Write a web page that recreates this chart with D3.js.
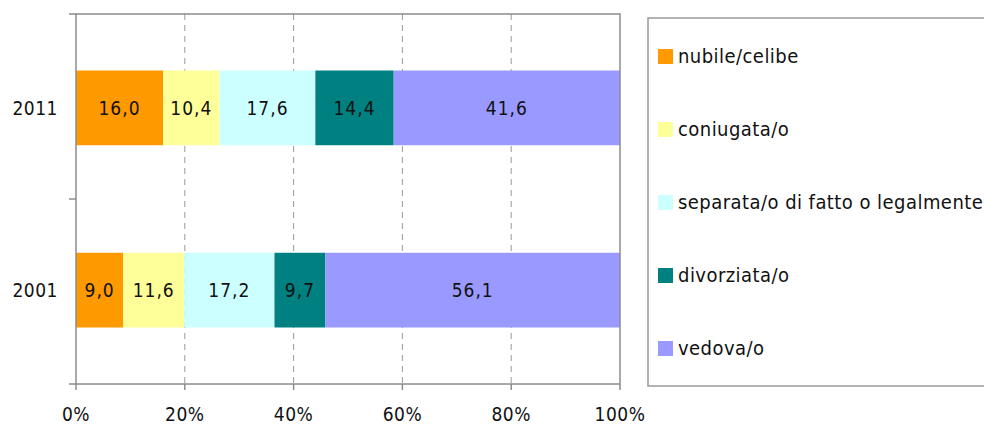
<!DOCTYPE html>
<html><head><meta charset="utf-8">
<script src="https://cdn.jsdelivr.net/npm/d3@7"></script>
<style>body{margin:0;background:#fff;}svg{display:block;}text{font-family:"DejaVu Sans Condensed","DejaVu Sans",sans-serif;font-stretch:condensed;fill:#111;}</style>
</head><body><svg id="c" width="984" height="427"></svg>
<script>
const categories = ["2011", "2001"];
const series = ["nubile/celibe", "coniugata/o", "separata/o di fatto o legalmente", "divorziata/o", "vedova/o"];
const colors = ["#FF9900", "#FFFF99", "#CCFFFF", "#008080", "#9999FF"];
const values2011 = [16.0, 10.4, 17.6, 14.4, 41.6];
const values2001 = [9.0, 11.6, 17.2, 9.7, 56.1];
const xTicks = [0, 20, 40, 60, 80, 100];

const valuesByCat = {"2011": values2011, "2001": values2001};
const svg = d3.select("#c");
const m = {l: 76, r: 620, t: 14, b: 384};
const x = d3.scaleLinear().domain([0, 100]).range([m.l, m.r]);
const y = d3.scaleBand().domain(categories).range([m.t, m.b]).paddingInner(0.59).paddingOuter(0.31);
const fmt = v => v.toFixed(1).replace(".", ",");
const fs = 19;

// grid
svg.append("g").selectAll("line").data(xTicks.filter(d => d > 0 && d < 100)).join("line")
  .attr("x1", d => x(d)).attr("x2", d => x(d)).attr("y1", m.t).attr("y2", m.b)
  .attr("stroke", "#999").attr("stroke-width", 1).attr("stroke-dasharray", "6,5");

// bars
categories.forEach(cat => {
  const vals = valuesByCat[cat];
  let acc = 0;
  const segs = vals.map((v, i) => { const s = {v, i, x0: acc, x1: acc + v}; acc += v; return s; });
  const tot = acc;
  const xs = d3.scaleLinear().domain([0, tot]).range([x(0), x(100)]);
  const g = svg.append("g");
  g.selectAll("rect").data(segs).join("rect")
    .attr("x", d => xs(d.x0)).attr("width", d => xs(d.x1) - xs(d.x0))
    .attr("y", y(cat)).attr("height", y.bandwidth()).attr("fill", d => colors[d.i]);
  g.selectAll("text").data(segs).join("text")
    .attr("x", d => (xs(d.x0) + xs(d.x1)) / 2).attr("y", y(cat) + y.bandwidth() / 2)
    .attr("text-anchor", "middle").attr("dominant-baseline", "central")
    .style("font-size", fs + "px").style("letter-spacing", "1px").text(d => fmt(d.v));
});

// plot border
svg.append("rect").attr("x", m.l).attr("y", m.t).attr("width", m.r - m.l).attr("height", m.b - m.t)
  .attr("fill", "none").attr("stroke", "#8c8c8c").attr("stroke-width", 1.5);

// y axis ticks and labels
const yTickPos = [m.t, (m.t + m.b) / 2, m.b];
svg.append("g").selectAll("line").data(yTickPos).join("line")
  .attr("x1", m.l - 7).attr("x2", m.l).attr("y1", d => d).attr("y2", d => d)
  .attr("stroke", "#8c8c8c").attr("stroke-width", 1.5);
svg.append("g").selectAll("text").data(categories).join("text")
  .attr("x", 58).attr("y", d => y(d) + y.bandwidth() / 2).attr("text-anchor", "end")
  .attr("dominant-baseline", "central").style("font-size", fs + "px").style("letter-spacing", "0.5px").text(d => d);

// x axis ticks and labels
svg.append("g").selectAll("line").data(xTicks).join("line")
  .attr("x1", d => x(d)).attr("x2", d => x(d)).attr("y1", m.b).attr("y2", m.b + 6)
  .attr("stroke", "#8c8c8c").attr("stroke-width", 1.5);
svg.append("g").selectAll("text").data(xTicks).join("text")
  .attr("x", d => x(d)).attr("y", 414).attr("text-anchor", "middle")
  .attr("dominant-baseline", "central").style("font-size", fs + "px").style("letter-spacing", "0.5px").text(d => d + "%");

// legend
svg.append("rect").attr("x", 648).attr("y", 18).attr("width", 345).attr("height", 368)
  .attr("fill", "#fff").attr("stroke", "#999").attr("stroke-width", 1.5);
const ly = d3.scalePoint().domain(series).range([56, 348]);
const lg = svg.append("g").selectAll("g").data(series).join("g");
lg.append("rect").attr("x", 658).attr("y", d => ly(d) - 7).attr("width", 15).attr("height", 15)
  .attr("fill", (d, i) => colors[i]);
lg.append("text").attr("x", 678).attr("y", d => ly(d)).attr("dominant-baseline", "central")
  .style("font-size", "20px").style("letter-spacing", "0.45px").text(d => d);
</script></body></html>
